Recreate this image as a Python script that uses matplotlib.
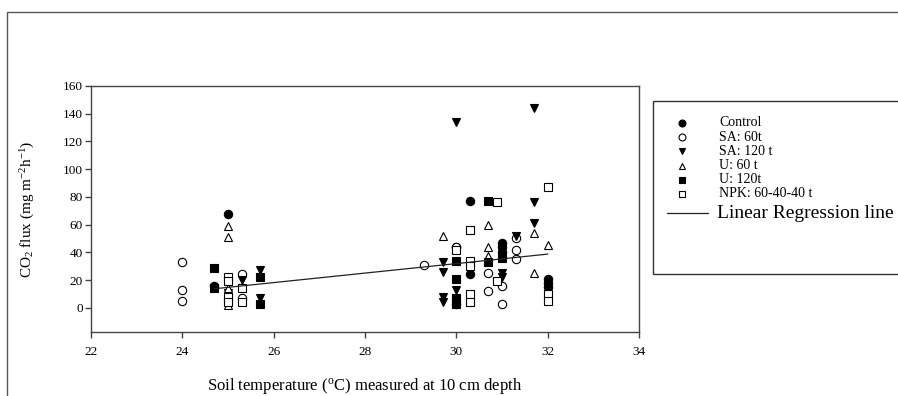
import matplotlib
matplotlib.use("Agg")
import matplotlib.pyplot as plt
from matplotlib.patches import Rectangle
from matplotlib.lines import Line2D

plt.rcParams['font.family'] = ['Liberation Serif', 'DejaVu Serif']
plt.rcParams['mathtext.fontset'] = 'custom'
plt.rcParams['mathtext.rm'] = 'Liberation Serif'
plt.rcParams['mathtext.it'] = 'Liberation Serif:italic'

# soil temperature (C) and CO2 flux for each treatment
control_t = [24.7, 25.0, 30.0, 30.0, 30.3, 30.3, 31.0, 31.0, 31.0, 32.0, 32.0, 32.0]
control_f = [16, 68, 44, 3, 77, 24, 47, 44, 40, 21, 18, 15]

sa60_t = [24.0, 24.0, 24.0, 25.3, 25.3, 29.3, 30.0, 30.7, 30.7, 31.0, 31.0, 31.3, 31.3, 31.3]
sa60_f = [33, 13, 5, 24, 7, 31, 44, 25, 12, 16, 3, 50, 42, 35]

sa120_t = [25.0, 25.3, 25.7, 25.7, 29.7, 29.7, 29.7, 29.7, 30.0, 30.0, 31.0, 31.0, 31.3, 31.7, 31.7, 31.7]
sa120_f = [11, 20, 27, 7, 33, 26, 8, 4, 134, 13, 25, 22, 52, 144, 76, 61]

u60_t = [25.0, 25.0, 25.0, 25.0, 29.7, 30.7, 30.7, 30.7, 31.7, 31.7, 32.0]
u60_f = [59, 51, 14, 2, 52, 60, 44, 37, 54, 25, 45]

u120_t = [24.7, 24.7, 25.7, 25.7, 30.0, 30.0, 30.0, 30.0, 30.7, 30.7, 31.0]
u120_f = [29, 14, 22, 3, 34, 21, 7, 3, 77, 33, 36]

npk_t = [25.0, 25.0, 25.0, 25.0, 25.3, 25.3, 30.0, 30.3, 30.3, 30.3, 30.3, 30.3, 30.9, 30.9, 32.0, 32.0, 32.0]
npk_f = [22, 19, 8, 4, 14, 4, 42, 56, 34, 30, 10, 4, 76, 19, 87, 10, 5]

reg_t = [24.7, 32.0]
reg_f = [13.7, 38.7]

labels = ['Control', 'SA: 60t', 'SA: 120 t', 'U: 60 t', 'U: 120t', 'NPK: 60-40-40 t']
series = [(control_t, control_f, 'o', 'black'),
          (sa60_t, sa60_f, 'o', 'white'),
          (sa120_t, sa120_f, 'v', 'black'),
          (u60_t, u60_f, '^', 'white'),
          (u120_t, u120_f, 's', 'black'),
          (npk_t, npk_f, 's', 'white')]

W, H = 898, 396
fig = plt.figure(figsize=(W / 100, H / 100), dpi=100)
ax = fig.add_axes([91 / W, 1 - 332 / H, 548 / W, 246 / H])

for (t, f, m, fc) in series:
    ax.plot(t, f, linestyle='none', marker=m, markersize=6, markerfacecolor=fc,
            markeredgecolor='black', markeredgewidth=0.8)
ax.plot(reg_t, reg_f, color='#222222', lw=0.9)

ax.set_xlim(22, 34)
ax.set_ylim(-17.5, 160)
ax.set_xticks(range(22, 35, 2))
ax.set_yticks(range(0, 161, 20))
for s in ax.spines.values():
    s.set_color('#444444')
    s.set_linewidth(1.0)
ax.tick_params(direction='out', length=4, width=1, color='#444444', labelsize=9.5)
ax.tick_params(axis='x', pad=6)
ax.tick_params(axis='y', pad=2)

ax.set_ylabel(r'CO$_2$ flux (mg m$^{-2}$h$^{-1}$)', fontsize=11, va='center')
ax.yaxis.set_label_coords((28 - 91) / 548, 0.5)
ax.set_xlabel(r'Soil temperature ($^{\mathrm{o}}$C) measured at 10 cm depth', fontsize=12, va='center')
ax.xaxis.set_label_coords(0.5, (332 - 386) / 246)

# outer frame and legend box
fig.patches.append(Rectangle((7 / W, -0.1), 1.1, 1 - 12 / H + 0.1, transform=fig.transFigure,
                             fill=False, edgecolor='#555555', lw=1))
fig.patches.append(Rectangle((653 / W, 1 - 274 / H), 0.5, (274 - 101) / H, transform=fig.transFigure,
                             fill=False, edgecolor='#333333', lw=1))

row0, step = 123, 14.2
for i, (lab, (t, f, m, fc)) in enumerate(zip(labels, series)):
    y = 1 - (row0 + i * step) / H
    fig.add_artist(Line2D([682 / W], [y], marker=m, markersize=5, markerfacecolor=fc,
                          markeredgecolor='black', markeredgewidth=0.8, transform=fig.transFigure))
    fig.text(719 / W, y, lab, fontsize=10, va='center')
y = 1 - 213 / H
fig.add_artist(Line2D([667 / W, 708 / W], [y, y], color='#222222', lw=0.9, transform=fig.transFigure))
fig.text(717 / W, y, 'Linear Regression line', fontsize=14, va='center')

fig.savefig('out.png', dpi=100)
